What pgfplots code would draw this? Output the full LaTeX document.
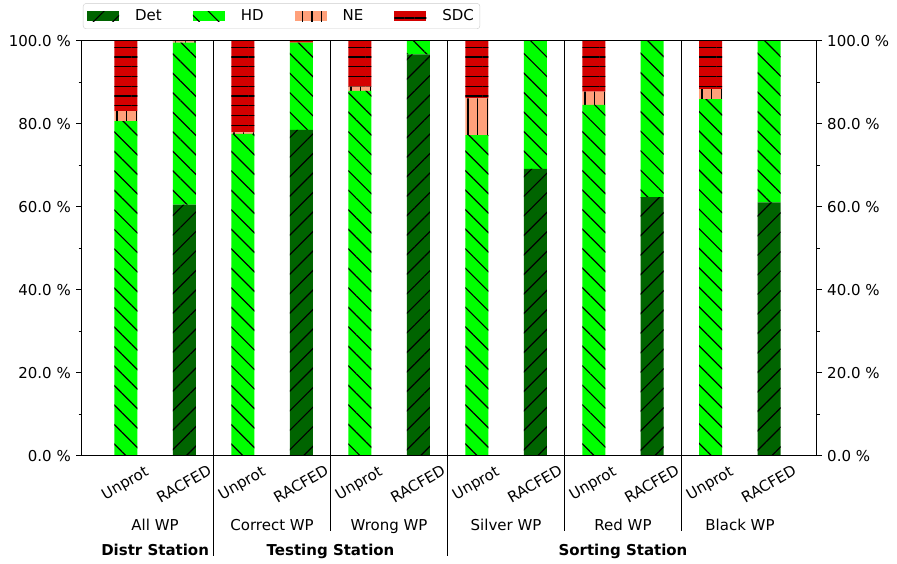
\documentclass[border=0pt]{standalone}
\usepackage{fontspec}
\setmainfont{DejaVu Sans}
\usepackage{pgfplots}
\pgfplotsset{compat=1.18}
\usetikzlibrary{patterns.meta}
\definecolor{detc}{RGB}{0,100,0}
\definecolor{hdc}{RGB}{0,255,0}
\definecolor{nec}{RGB}{255,160,122}
\definecolor{sdcc}{RGB}{212,0,0}
\pgfplotsset{
  mylegend/.style={legend image code/.code={\path[sharp corners,##1] (0pt,-5pt) rectangle (32pt,5pt);}},
}
\begin{document}
\fontsize{15pt}{18pt}\selectfont
\begin{tikzpicture}
\begin{axis}[
  name=main,
  scale only axis, width=734pt, height=415pt,
  xmin=-0.75, xmax=11.8, ymin=0, ymax=100,
  ybar stacked, bar width=23pt,
  axis on top,
  axis line style={line width=1pt},
  ytick={0,20,...,100}, minor ytick={10,30,...,90},
  yticklabels={0.0 \%,20.0 \%,40.0 \%,60.0 \%,80.0 \%,100.0 \%},
  ytick pos=left,
  tick align=outside,
  major tick length=6pt, minor tick length=3.5pt,
  tick style={line width=1pt, black},
  xtick={0,...,11},
  xticklabels={Unprot,RACFED,Unprot,RACFED,Unprot,RACFED,Unprot,RACFED,Unprot,RACFED,Unprot,RACFED},
  xtick style={draw=none},
  xticklabel style={xshift=-0.5pt, yshift=-22pt, rotate=30, anchor=center},
  clip=false,
  legend columns=4,
  legend style={at={(0,1)}, anchor=south west, xshift=1pt, yshift=12pt,
    draw=black!20, rounded corners=3pt, inner xsep=4pt, inner ysep=4pt,
    cells={anchor=west},
    /tikz/every odd column/.append style={column sep=14pt},
    /tikz/every even column/.append style={column sep=29pt}},
]
\addplot[fill=detc, draw=none, mylegend,
  postaction={pattern={Lines[angle=45,distance=13.8pt,line width=1.2pt]}, pattern color=black}]
  coordinates {(0,0) (1,60.6) (2,0) (3,78.6) (4,0) (5,96.8) (6,0) (7,69.2) (8,0) (9,62.4) (10,0) (11,61.1)};
\addplot[fill=hdc, draw=none, mylegend,
  postaction={pattern={Lines[angle=-45,distance=13.8pt,line width=1.2pt]}, pattern color=black}]
  coordinates {(0,80.7) (1,39.0) (2,77.6) (3,21.0) (4,88.0) (5,3.2) (6,77.3) (7,30.8) (8,84.6) (9,37.6) (10,86.0) (11,38.9)};
\addplot[fill=nec, draw=none, mylegend,
  postaction={pattern={Lines[angle=90,distance=9.75pt,line width=1.2pt]}, pattern color=black}]
  coordinates {(0,2.4) (1,0.3) (2,0.4) (3,0) (4,1.0) (5,0) (6,8.9) (7,0) (8,3.2) (9,0) (10,2.4) (11,0)};
\addplot[fill=sdcc, draw=none, mylegend,
  postaction={pattern={Lines[angle=0,distance=9.75pt,line width=1.2pt]}, pattern color=black}]
  coordinates {(0,16.9) (1,0.1) (2,22.0) (3,0.4) (4,11.0) (5,0) (6,13.8) (7,0) (8,12.2) (9,0) (10,11.6) (11,0)};
\legend{Det,HD,NE,SDC}
\pgfplotsinvokeforeach{0,...,11}{\draw[line width=1pt] (axis cs:#1,0) -- ([yshift=8pt]axis cs:#1,0);}
\draw[line width=1pt] (axis cs:1.5,100) -- ([yshift=-100pt]axis cs:1.5,0);
\draw[line width=1pt] (axis cs:3.5,100) -- ([yshift=-75pt]axis cs:3.5,0);
\draw[line width=1pt] (axis cs:5.5,100) -- ([yshift=-100pt]axis cs:5.5,0);
\draw[line width=1pt] (axis cs:7.5,100) -- ([yshift=-75pt]axis cs:7.5,0);
\draw[line width=1pt] (axis cs:9.5,100) -- ([yshift=-75pt]axis cs:9.5,0);
\node[anchor=base] at ([yshift=-75pt]axis cs:0.5,0) {All WP};
\node[anchor=base] at ([yshift=-75pt]axis cs:2.5,0) {Correct WP};
\node[anchor=base] at ([yshift=-75pt]axis cs:4.5,0) {Wrong WP};
\node[anchor=base] at ([yshift=-75pt]axis cs:6.5,0) {Silver WP};
\node[anchor=base] at ([yshift=-75pt]axis cs:8.5,0) {Red WP};
\node[anchor=base] at ([yshift=-75pt]axis cs:10.5,0) {Black WP};
\node[anchor=base] at ([yshift=-100pt]axis cs:0.5,0) {\bfseries Distr Station};
\node[anchor=base] at ([yshift=-100pt]axis cs:3.5,0) {\bfseries Testing Station};
\node[anchor=base] at ([yshift=-100pt]axis cs:8.5,0) {\bfseries Sorting Station};
\end{axis}
\begin{axis}[
  scale only axis, width=734pt, height=415pt,
  xmin=0, xmax=1, ymin=0, ymax=100,
  axis x line=none, axis y line*=right,
  axis line style={line width=1pt, -},
  ytick={0,20,...,100}, minor ytick={10,30,...,90},
  yticklabels={0.0 \%,20.0 \%,40.0 \%,60.0 \%,80.0 \%,100.0 \%},
  tick align=outside,
  major tick length=6pt, minor tick length=3.5pt,
  tick style={line width=1pt, black},
]
\end{axis}
\pgfresetboundingbox
\path[use as bounding box] ([shift={(-82pt,-108pt)}]main.south west) rectangle ++(897pt,564pt);
\end{tikzpicture}
\end{document}
